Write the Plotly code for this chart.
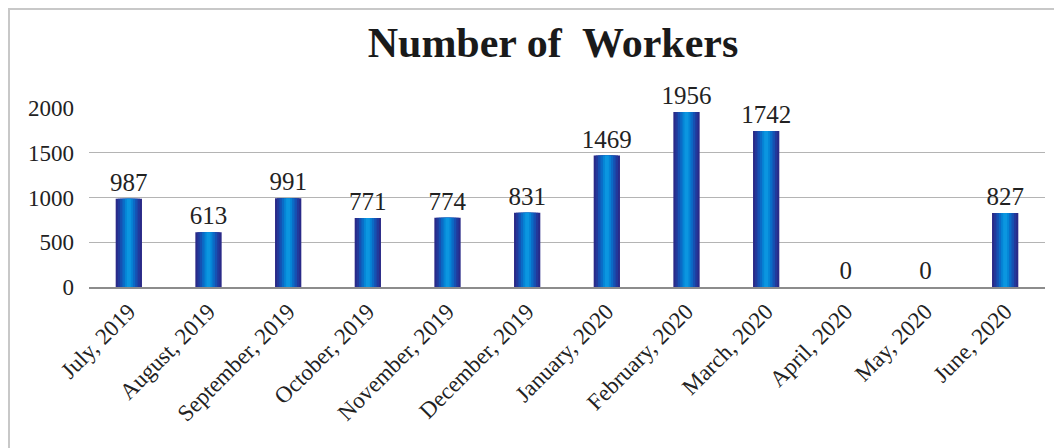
import plotly.graph_objects as go

months = ["July, 2019", "August, 2019", "September, 2019", "October, 2019",
          "November, 2019", "December, 2019", "January, 2020", "February, 2020",
          "March, 2020", "April, 2020", "May, 2020", "June, 2020"]
workers = [987, 613, 991, 771, 774, 831, 1469, 1956, 1742, 0, 0, 827]
y_ticks = [0, 500, 1000, 1500, 2000]

# page body has an 8px margin, so the figure is sized to the visible area
W, H = 1054, 440
L, R, T, B = 81, 17, 100, 161

fig = go.Figure()

# layered bars to imitate the cylindrical gradient shading
layers = [(0.33, "#2a2a88"), (0.28, "#22399b"), (0.22, "#1651b2"),
          (0.16, "#0b6bc6"), (0.10, "#0585d6"), (0.05, "#0b96e0")]
for i, (w, c) in enumerate(layers):
    fig.add_trace(go.Bar(
        x=months, y=workers, width=w, marker=dict(color=c, line=dict(width=0)),
        text=[str(v) for v in workers] if i == 0 else None,
        textposition="outside" if i == 0 else "none",
        constraintext="none",
        textfont=dict(family="Liberation Serif", size=25, color="#222222"),
        cliponaxis=False, hoverinfo="skip", showlegend=False))

fig.update_layout(
    width=W, height=H, barmode="overlay",
    margin=dict(l=L, r=R, t=T, b=B),
    paper_bgcolor="white", plot_bgcolor="white",
    title=dict(text="<b>Number of  Workers</b>", x=(553 - 8) / W, xanchor="center",
               y=1 - 34 / H, yanchor="middle",
               font=dict(family="Liberation Serif", size=42, color="#1a1a1a")),
    xaxis=dict(tickangle=-45, tickfont=dict(family="Liberation Serif", size=23, color="#222222"),
               showgrid=False, showline=True, linecolor="#8c8c8c", linewidth=2,
               ticks="", automargin=False),
    yaxis=dict(range=[0, 2000], tickvals=y_ticks,
               tickfont=dict(family="Liberation Serif", size=23, color="#222222"),
               ticklabelstandoff=14,
               showgrid=True, gridcolor="#b4b4b4", gridwidth=1,
               zeroline=False, showline=False, ticks="", ticklen=0,
               automargin=False),
)

# outer frame of the chart
pw, ph = W - L - R, H - T - B
fig.add_shape(type="rect", xref="paper", yref="paper",
              x0=(1 - L) / pw, x1=(W + 5 - L) / pw,
              y0=-(B + 5) / ph, y1=1 + (T - 1) / ph,
              line=dict(color="#c8c8c8", width=2), fillcolor="rgba(0,0,0,0)",
              layer="below")

fig.write_html("out.html")
